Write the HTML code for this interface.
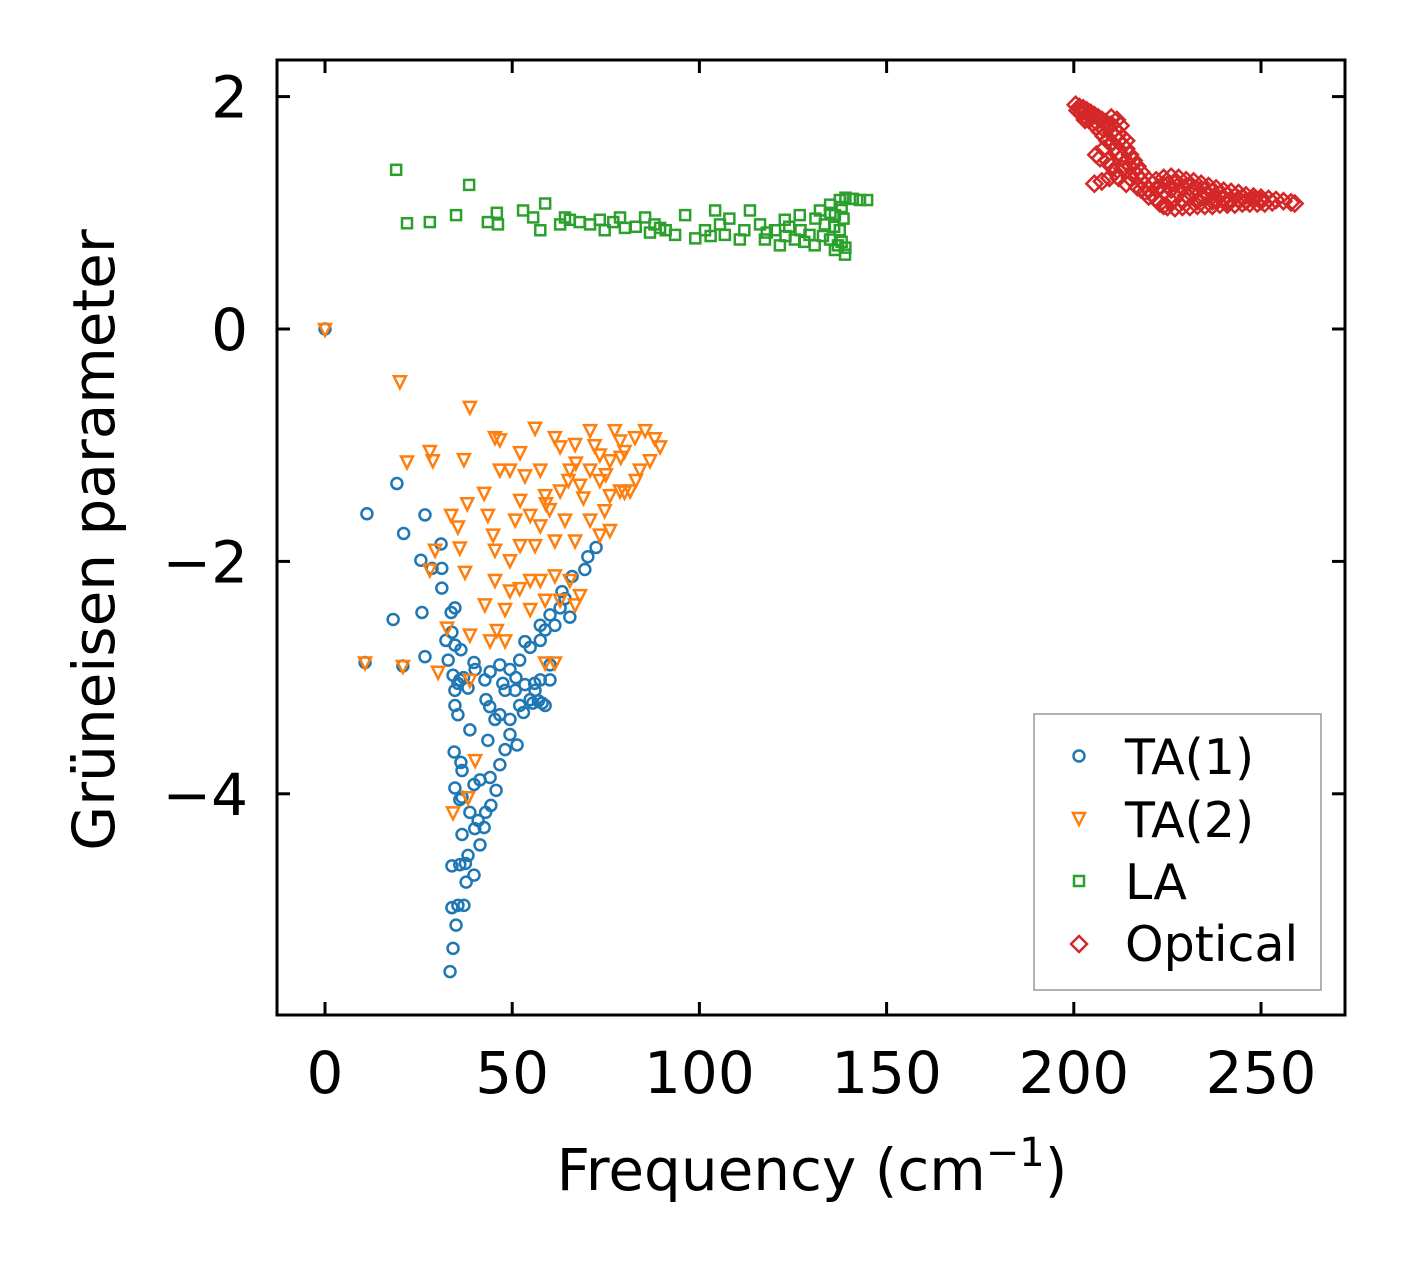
<!DOCTYPE html>
<html><head><meta charset="utf-8"><style>
body{margin:0;background:#fff;}
svg text{font-family:"DejaVu Sans","Liberation Sans",sans-serif;fill:#000;}
</style></head><body>
<svg id="chart" width="1406" height="1264" xmlns="http://www.w3.org/2000/svg">
<rect x="0" y="0" width="1406" height="1264" fill="#fff"/>
<g id="marks"></g>
<g id="axes"></g>
<text x="812" y="1190" font-size="58" text-anchor="middle">Frequency (cm<tspan font-size="40" dy="-24">−1</tspan><tspan dy="24">)</tspan></text>
<text transform="translate(114,540) rotate(-90)" font-size="58" text-anchor="middle">Grüneisen parameter</text>
<g>
<rect x="1034" y="714" width="287" height="276" fill="#fff" stroke="#999" stroke-width="1.5"/>
<circle cx="1079" cy="756" r="5.5" fill="none" stroke="#1f77b4" stroke-width="2.5"/>
<text x="1125" y="774" font-size="49">TA(1)</text>
<path d="M1073,813 L1085,813 L1079,825 Z" fill="none" stroke="#ff7f0e" stroke-width="2.5"/>
<text x="1125" y="837" font-size="49">TA(2)</text>
<rect x="1074" y="876" width="10" height="10" fill="none" stroke="#2ca02c" stroke-width="2.5"/>
<text x="1125" y="899" font-size="49">LA</text>
<path d="M1079,936 L1087,944 L1079,952 L1071,944 Z" fill="none" stroke="#d62728" stroke-width="2.5"/>
<text x="1125" y="961" font-size="49">Optical</text>
</g>
</svg>
<script>
const xTicks=[0,50,100,150,200,250];
const yTicks=[2,0,-2,-4];
const yTickLabels=["2","0","\u22122","\u22124"];
const ta1=[[0,0],[11.2,-1.59],[19.2,-1.33],[21,-1.76],[26.7,-1.6],[25.6,-1.99],[18.2,-2.5],[25.9,-2.44],[10.7,-2.87],[20.8,-2.9],[26.7,-2.82],[31,-1.85],[31.2,-2.06],[31.2,-2.23],[28.6,-2.06],[33.4,-5.53],[34.2,-5.33],[35,-5.13],[35.5,-4.96],[33.9,-4.98],[37.1,-4.96],[33.9,-4.62],[36,-4.61],[38.2,-4.53],[39.8,-4.7],[37.7,-4.76],[36.6,-4.35],[38.7,-4.16],[34.7,-3.95],[36.6,-4.03],[40.9,-4.23],[41.4,-4.44],[42.5,-4.29],[39.8,-3.92],[34.5,-3.64],[36.3,-3.73],[36.6,-3.8],[38.7,-3.45],[41.4,-3.88],[44.1,-3.86],[45.7,-3.97],[44.3,-4.1],[42.9,-4.16],[43.5,-3.54],[46.7,-3.75],[48.1,-3.62],[51.3,-3.58],[49.4,-3.49],[45.4,-3.36],[43,-3.19],[34.7,-3.24],[35.5,-3.32],[34.7,-3.11],[34.2,-2.98],[36,-3.02],[38.2,-3.09],[40.1,-2.93],[39.8,-2.87],[32.9,-2.85],[32.3,-2.68],[33.9,-2.61],[34.7,-2.4],[33.7,-2.44],[34.7,-2.72],[36.3,-2.76],[42.7,-3.02],[44.1,-2.95],[46.7,-2.89],[49.4,-2.93],[52,-2.85],[48.1,-3.11],[50.8,-3.11],[53.4,-3.06],[52,-3.24],[54.8,-3.19],[56.1,-3.11],[57.5,-3.02],[58.8,-3.24],[60.1,-3.02],[60.1,-2.89],[53.4,-2.69],[54.8,-2.74],[57.5,-2.68],[57.5,-2.55],[58.8,-2.59],[60.1,-2.46],[61.4,-2.55],[62.8,-2.4],[64.1,-2.32],[63.3,-2.26],[65.4,-2.48],[66,-2.13],[69.4,-2.07],[70.2,-1.96],[72.4,-1.88],[49.4,-3.36],[46.7,-3.32],[55.5,-3.22],[57,-3.2],[51,-3.0],[47.5,-3.05],[35.5,-3.05],[37,-3.0],[44,-3.25],[53,-3.3],[56,-3.05],[58,-3.22],[37.5,-4.6],[36,-4.05],[40,-4.3]];
const ta2=[[0,0],[20,-0.45],[38.7,-0.67],[21.9,-1.14],[28,-1.05],[28.8,-1.13],[37.1,-1.12],[45.4,-0.93],[46.7,-0.95],[52.1,-1.06],[56.1,-0.85],[61.4,-0.93],[62.8,-1.01],[66.8,-0.99],[70.8,-0.87],[73.4,-1.08],[76.1,-1.13],[77.4,-0.87],[78.8,-0.96],[82.8,-0.93],[85.5,-0.87],[88.1,-0.94],[89.5,-1.01],[86.8,-1.13],[84.1,-1.21],[81.5,-1.39],[78.8,-1.39],[76.1,-1.43],[73.4,-1.3],[70.8,-1.21],[68.1,-1.34],[65.4,-1.21],[62.8,-1.39],[58.8,-1.43],[57.5,-1.21],[53.4,-1.26],[49.4,-1.21],[46.7,-1.21],[42.5,-1.41],[38,-1.5],[33.7,-1.6],[35.5,-1.7],[36,-1.88],[43.5,-1.6],[44.9,-1.77],[45.4,-1.9],[50.8,-1.64],[52.1,-1.47],[54.8,-1.6],[57.5,-1.69],[56.1,-1.86],[61.4,-1.82],[64.1,-1.64],[66.8,-1.82],[70.8,-1.64],[73.4,-1.77],[76.1,-1.73],[74.7,-1.56],[52.1,-1.86],[49.4,-1.99],[45.4,-2.16],[49.4,-2.25],[52,-2.23],[54.8,-2.16],[57.5,-2.16],[61.4,-2.12],[62.8,-2.33],[65.4,-2.16],[68.1,-2.29],[66.8,-2.37],[58.8,-2.33],[54.8,-2.41],[48.1,-2.41],[42.7,-2.37],[37.4,-2.09],[29.4,-1.9],[28,-2.07],[32.6,-2.57],[38.7,-2.63],[44.1,-2.68],[45.9,-2.59],[48.1,-2.68],[38.7,-3.02],[30.2,-2.95],[10.7,-2.87],[20.8,-2.9],[40.1,-3.71],[38.2,-4.03],[34.2,-4.16],[58.8,-2.87],[61.4,-2.87],[80,-1.05],[83,-1.3],[72,-1.0],[67,-1.15],[60,-1.55],[80,-1.4],[79,-1.1],[75,-1.25],[69,-1.45],[65,-1.3],[59,-1.5]];
const la=[[19,1.37],[38.5,1.24],[21.9,0.91],[28,0.92],[35,0.98],[43.5,0.92],[45.9,1.0],[46.2,0.9],[52.9,1.02],[55.6,0.96],[57.5,0.85],[58.8,1.08],[62.8,0.9],[64.1,0.96],[65.4,0.94],[70.8,0.9],[73.4,0.94],[74.7,0.85],[78.8,0.96],[80.1,0.87],[85.5,0.96],[86.8,0.83],[89.5,0.87],[93.5,0.81],[96.2,0.98],[98.9,0.78],[101.5,0.85],[104.2,1.02],[105.5,0.9],[106.8,0.81],[110.8,0.77],[113.5,1.02],[116.2,0.9],[117.5,0.77],[120.2,0.85],[121.5,0.72],[122.8,0.94],[125.5,0.77],[126.8,0.98],[129.4,0.81],[130.8,0.72],[132.2,1.02],[133.5,0.9],[134.9,0.77],[136.2,0.68],[137.5,1.11],[138.9,0.64],[140.2,1.12],[142.9,1.11],[144.8,1.11],[134.9,1.07],[136.2,0.98],[137.5,0.85],[138,0.75],[139,0.7],[138.5,0.95],[131,0.95],[127,0.85],[123,0.8],[118,0.83],[112,0.85],[108,0.95],[103,0.8],[91,0.85],[88,0.9],[83,0.88],[77,0.92],[68,0.92],[136,0.88],[138,1.05],[135,1.0],[133,0.8],[137,0.72],[139,1.13],[141,1.12],[128,0.75],[124,0.88]];
const optical=[[200.5,1.93],[201.5,1.91],[202.5,1.9],[203.5,1.88],[204.5,1.86],[205.5,1.84],[206.5,1.82],[207.5,1.8],[208.5,1.78],[210,1.76],[211,1.72],[212,1.68],[201,1.88],[202,1.86],[203,1.83],[204,1.8],[205,1.77],[206,1.74],[207,1.7],[208,1.66],[209,1.62],[210,1.6],[211,1.56],[212,1.52],[213,1.48],[214,1.44],[215,1.4],[216,1.36],[217,1.32],[218,1.28],[219,1.24],[220,1.2],[221,1.16],[222,1.12],[223,1.08],[224,1.06],[206,1.5],[207,1.47],[209,1.45],[205.5,1.25],[207.5,1.27],[209.5,1.3],[211,1.35],[213,1.38],[215,1.3],[217,1.22],[219,1.18],[222,1.28],[224,1.3],[226,1.31],[228,1.3],[230,1.28],[232,1.27],[234,1.25],[236,1.23],[238,1.21],[240,1.19],[242,1.18],[244,1.17],[246,1.15],[248,1.14],[250,1.13],[252,1.12],[254,1.11],[256,1.1],[258,1.09],[259,1.08],[225,1.05],[227,1.04],[229,1.05],[231,1.05],[233,1.06],[235,1.06],[237,1.06],[239,1.07],[241,1.07],[243,1.07],[245,1.08],[247,1.08],[249,1.08],[251,1.08],[224,1.18],[226,1.2],[228,1.17],[230,1.15],[232,1.18],[234,1.13],[236,1.15],[238,1.12],[240,1.13],[242,1.11],[244,1.12],[246,1.1],[248,1.11],[250,1.1],[253,1.09],[227,1.25],[231,1.22],[235,1.19],[239,1.16],[243,1.14],[203,1.8],[204,1.84],[206,1.78],[208,1.72],[209,1.75],[210,1.69],[211,1.65],[212,1.62],[213,1.58],[212.5,1.75],[211.5,1.8],[214,1.55],[215,1.5],[216,1.45],[217,1.4],[218,1.35],[220,1.28],[221,1.25],[223,1.22],[225,1.24],[229,1.22],[233,1.2],[237,1.18],[241,1.15],[245,1.13],[229,1.1],[233,1.1],[237,1.1],[241,1.1],[226,1.1],[222,1.2],[220,1.14],[218,1.2],[214,1.25],[212,1.3],[210,1.4],[208,1.55],[213,1.65],[214,1.62],[210,1.82]];

const L=277,R=1345,T=60,B=1015;
function xs(v){return 325+v*3.744;}
function ys(v){return 329-v*116.2;}
const NS="http://www.w3.org/2000/svg";
const marks=document.getElementById('marks');
const axes=document.getElementById('axes');
function mk(tag,attrs,parent){const e=document.createElementNS(NS,tag);for(const k in attrs)e.setAttribute(k,attrs[k]);parent.appendChild(e);return e;}

ta1.forEach(p=>{const e=mk('circle',{cx:xs(p[0]),cy:ys(p[1]),r:5.5,fill:'none',stroke:'#1f77b4','stroke-width':2.5},marks);

});
ta2.forEach(p=>{const x=xs(p[0]),y=ys(p[1]);const e=mk('path',{d:`M${x-6},${y-5} L${x+6},${y-5} L${x},${y+7} Z`,fill:'none',stroke:'#ff7f0e','stroke-width':2.5},marks);

});
la.forEach(p=>{const e=mk('rect',{x:xs(p[0])-5,y:ys(p[1])-5,width:10,height:10,fill:'none',stroke:'#2ca02c','stroke-width':2.5},marks);

});
optical.forEach(p=>{const x=xs(p[0]),y=ys(p[1]);const e=mk('path',{d:`M${x},${y-8} L${x+8},${y} L${x},${y+8} L${x-8},${y} Z`,fill:'none',stroke:'#d62728','stroke-width':2.5},marks);

});

const frame=mk('rect',{x:L,y:T,width:R-L,height:B-T,fill:'none',stroke:'#000','stroke-width':3},axes);


xTicks.forEach(v=>{const x=xs(v);
const a=mk('line',{x1:x,y1:B,x2:x,y2:B-13,stroke:'#000','stroke-width':3},axes);


const b=mk('line',{x1:x,y1:T,x2:x,y2:T+13,stroke:'#000','stroke-width':3},axes);


const t=mk('text',{x:x,y:1093,'font-size':58,'text-anchor':'middle'},axes);t.textContent=String(v);

});
yTicks.forEach((v,i)=>{const y=ys(v);
const a=mk('line',{x1:L,y1:y,x2:L+13,y2:y,stroke:'#000','stroke-width':3},axes);


const b=mk('line',{x1:R,y1:y,x2:R-13,y2:y,stroke:'#000','stroke-width':3},axes);


const t=mk('text',{x:248,y:y+21,'font-size':58,'text-anchor':'end'},axes);t.textContent=yTickLabels[i];

});
</script>
</body></html>
